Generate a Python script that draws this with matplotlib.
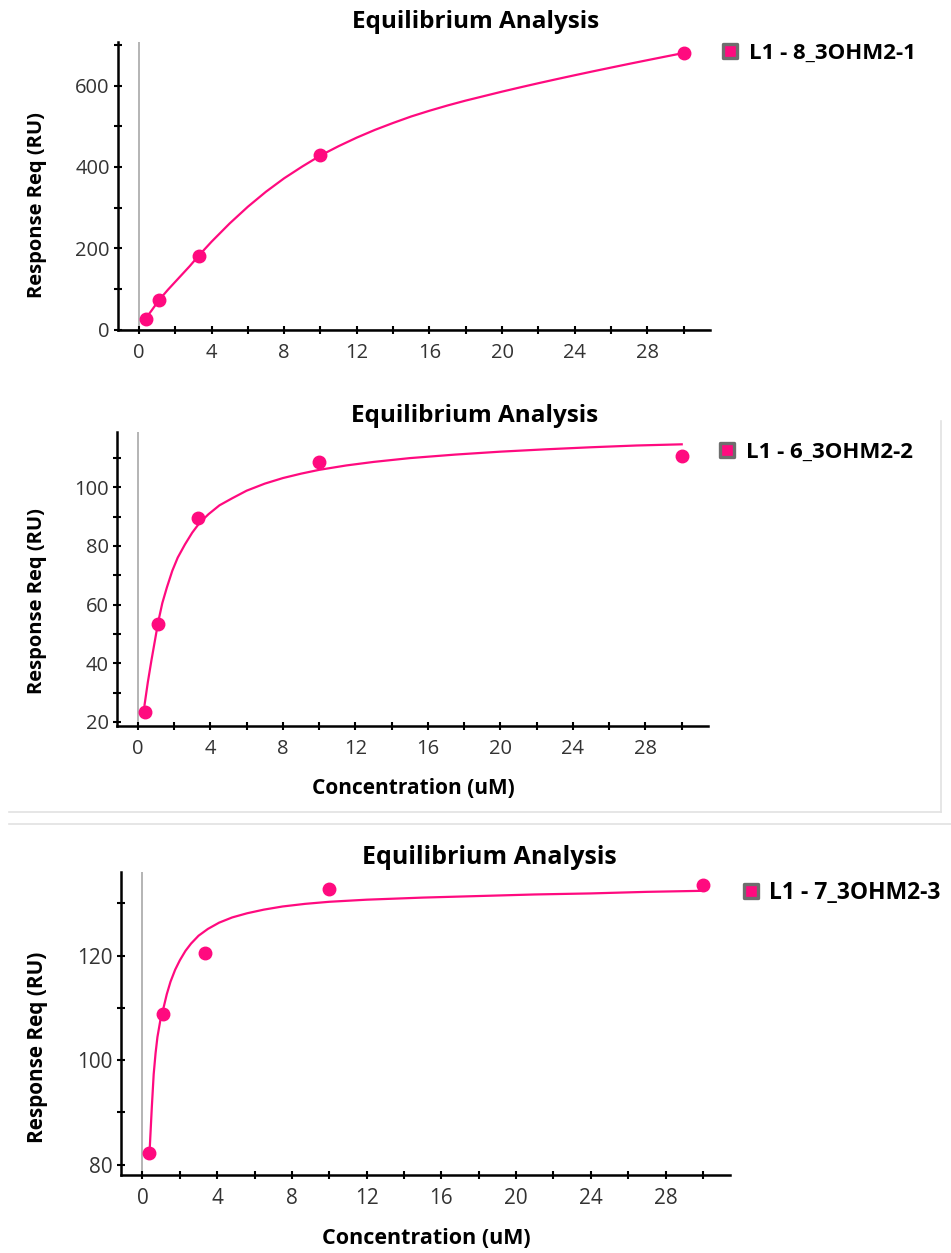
import matplotlib.pyplot as plt
from matplotlib.lines import Line2D
from matplotlib.markers import MarkerStyle
from matplotlib.ticker import MultipleLocator

plt.rcParams['font.family'] = ['Open Sans', 'DejaVu Sans']

PINK = '#ff0a7f'
W, H = 951, 1253

# concentration series (uM)
conc = [0.37, 1.11, 3.33, 10, 30]

# measured equilibrium responses (RU)
resp_1 = [27, 72, 182, 429, 680]
resp_2 = [23.5, 53.3, 89.6, 108.5, 110.6]
resp_3 = [82.2, 108.8, 120.4, 132.7, 133.5]

# fitted curves
fit_x_1 = [0.37, 0.7, 1.1, 1.6, 2.2, 2.8, 3.3, 4, 5, 6, 7, 8, 9, 10, 11, 12, 13,
           14, 15, 16, 17, 18, 19, 20, 21, 22, 23, 24, 25, 26, 27, 28, 29, 30]
fit_y_1 = [27, 47, 72, 98, 127, 156, 182, 216, 261, 302, 339, 372, 401, 428,
           451, 472, 491, 508, 524, 538, 551, 563, 574, 585, 595.5, 605.7, 615.6,
           625.3, 634.8, 644.1, 653.3, 662.3, 671.2, 680]

fit_x_2 = [0.37, 0.55, 0.75, 0.95, 1.12, 1.35, 1.6, 1.9, 2.2, 2.6, 3.0, 3.4, 3.9,
           4.5, 5.2, 6.0, 7.0, 8.0, 9.0, 10.0, 11.5, 13, 15, 17.5, 20, 22.5, 25,
           27.5, 30]
fit_y_2 = [25.8, 33.5, 41, 48, 54, 60.5, 65.8, 71.5, 76, 80.5, 84.5, 87.8, 90.8,
           93.8, 96.2, 98.8, 101.2, 103.1, 104.6, 105.9, 107.4, 108.6, 109.9,
           111.1, 112.1, 112.9, 113.6, 114.2, 114.6]

fit_x_3 = [0.39, 0.5, 0.6, 0.7, 0.8, 0.95, 1.1, 1.3, 1.5, 1.75, 2.0, 2.3, 2.6,
           3.0, 3.5, 4.1, 4.8, 5.6, 6.5, 7.5, 8.7, 10, 12, 15, 18, 21, 24, 27, 30]
fit_y_3 = [83.2, 91, 97.3, 101.3, 104.4, 107.5, 109.6, 112.6, 115.0, 117.3,
           119.1, 120.9, 122.3, 123.8, 125.1, 126.3, 127.3, 128.1, 128.8, 129.4,
           129.9, 130.3, 130.7, 131.1, 131.4, 131.7, 131.9, 132.2, 132.4]

names = ['L1 - 8_3OHM2-1', 'L1 - 6_3OHM2-2', 'L1 - 7_3OHM2-3']


def fx(x):
    return x / W


def fy(y):
    return 1 - y / H


def draw_panel(fig, box, ys, fit_x, fit_y, ylim, ystep, name,
               title_xy, ylab_xy, xlab_xy, leg_xy, s=1.0):
    left, top, right, bottom = box
    ax = fig.add_axes([fx(left), fy(bottom), (right - left) / W, (bottom - top) / H])

    ax.axvline(0, color='#a8a8a8', lw=1.2, zorder=1)
    ax.axhline(0, color='#a8a8a8', lw=1.2, zorder=1)
    ax.plot(fit_x, fit_y, color=PINK, lw=1.6, zorder=3, solid_joinstyle='round')
    ax.plot(conc, ys, 'o', color=PINK, ms=9, zorder=4)

    ax.set_xlim(-1.15, 31.45)
    ax.set_ylim(*ylim)
    ax.xaxis.set_major_locator(MultipleLocator(4))
    ax.xaxis.set_minor_locator(MultipleLocator(2))
    ax.yaxis.set_major_locator(MultipleLocator(ystep))
    ax.yaxis.set_minor_locator(MultipleLocator(ystep / 2))

    for side in ['top', 'right']:
        ax.spines[side].set_visible(False)
    for side in ['left', 'bottom']:
        ax.spines[side].set_linewidth(1.8)

    ax.tick_params(which='both', direction='inout', length=6, width=1.5, color='black')
    ax.tick_params(which='major', labelsize=14.5 * s, labelcolor='#333333')
    ax.tick_params(axis='x', pad=6)
    ax.tick_params(axis='y', pad=3)

    # titles and labels
    fig.text(fx(title_xy[0]), fy(title_xy[1]), 'Equilibrium Analysis',
             ha='center', va='center', fontsize=17.5 * s, fontweight='bold')
    fig.text(fx(ylab_xy[0]), fy(ylab_xy[1]), 'Response Req (RU)', rotation=90,
             ha='center', va='center', fontsize=14.5 * s, fontweight='bold')
    if xlab_xy is not None:
        fig.text(fx(xlab_xy[0]), fy(xlab_xy[1]), 'Concentration (uM)',
                 ha='center', va='center', fontsize=15 * s, fontweight='bold')

    handle = Line2D([], [], ls='none', marker=MarkerStyle('s', joinstyle='round'),
                    markerfacecolor=PINK, markeredgecolor='#6e6e6e',
                    markeredgewidth=2.4, markersize=9.5)
    fig.legend(handles=[handle], labels=[name], loc='center left',
               bbox_to_anchor=(fx(leg_xy[0]), fy(leg_xy[1])), frameon=False,
               borderpad=0, borderaxespad=0, handlelength=0.75, handletextpad=0.45,
               prop={'weight': 'bold', 'size': 16 * s})
    return ax


def main():
    fig = plt.figure(figsize=(W / 100, H / 100), dpi=100)

    draw_panel(fig, (118, 42, 710, 330), resp_1, fit_x_1, fit_y_1, (-1, 707), 200,
               names[0], (476, 22), (37, 205), None, (722, 53))
    draw_panel(fig, (117, 432, 708, 726), resp_2, fit_x_2, fit_y_2, (18.6, 118.8), 20,
               names[1], (475, 416), (37, 601), (413, 788), (719, 452))
    draw_panel(fig, (121, 872, 730, 1175), resp_3, fit_x_3, fit_y_3, (78, 136), 20,
               names[2], (489, 857), (38, 1047), (426, 1239), (742, 893), s=1.03)

    # frame lines between the screenshots
    grey = '#e2e2e2'
    fig.add_artist(Line2D([fx(9), fx(941)], [fy(812), fy(812)], color=grey, lw=1.2))
    fig.add_artist(Line2D([fx(941), fx(941)], [fy(421), fy(812)], color=grey, lw=1.2))
    fig.add_artist(Line2D([fx(9), fx(951)], [fy(824), fy(824)], color=grey, lw=1.2))

    fig.savefig('out.png', dpi=100)


if __name__ == '__main__':
    main()
